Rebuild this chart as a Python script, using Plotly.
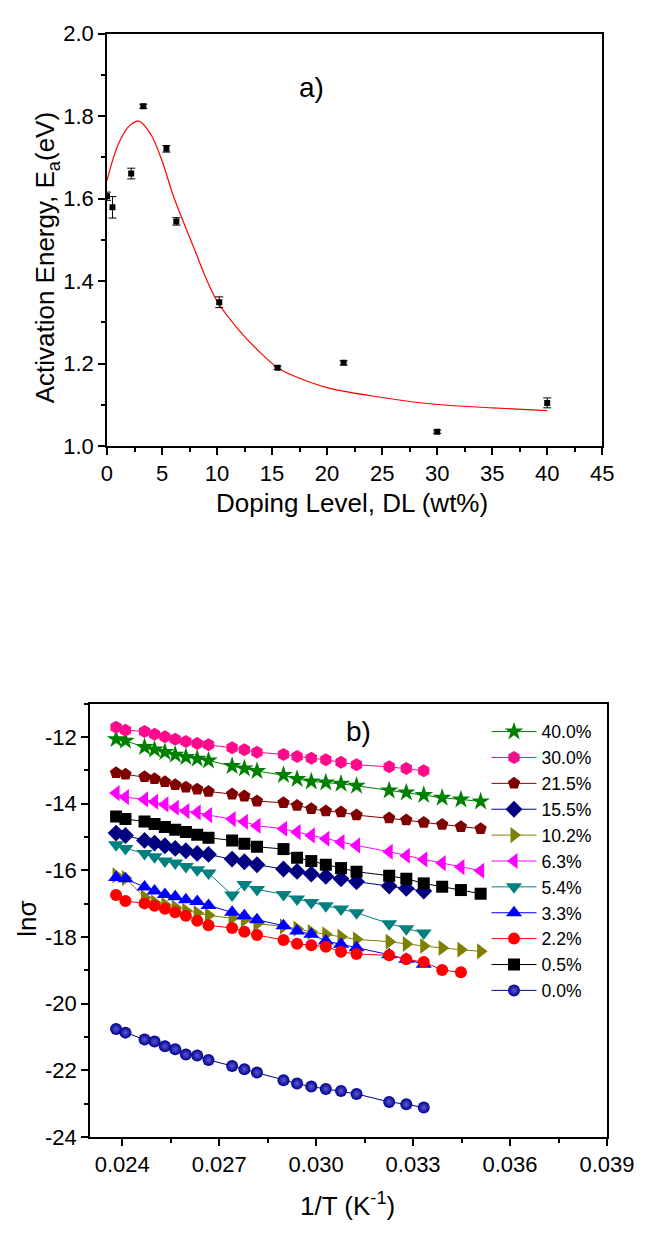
import plotly.graph_objects as go

# ---------------- Panel a data ----------------
doping_level = [0, 0.5, 2.2, 3.3, 5.4, 6.3, 10.2, 15.5, 21.5, 30, 40]
activation_energy = [1.606, 1.579, 1.661, 1.824, 1.721, 1.545, 1.349, 1.190, 1.202, 1.035, 1.105]
ea_error = [0.010, 0.026, 0.013, 0.005, 0.008, 0.009, 0.013, 0.004, 0.005, 0.004, 0.012]

fit_x = [0, 1, 2, 2.9, 4, 5, 6, 7, 8, 9, 10, 12, 14, 15.5, 17, 20, 25, 30, 35, 40]
fit_y = [1.644, 1.730, 1.776, 1.788, 1.755, 1.692, 1.609, 1.540, 1.474, 1.407, 1.352,
         1.281, 1.225, 1.190, 1.170, 1.142, 1.118, 1.101, 1.093, 1.086]

# ---------------- Panel b data ----------------
inv_T = [0.02381, 0.02410, 0.02469, 0.02500, 0.02532, 0.02564, 0.02597, 0.02632,
         0.02667, 0.02740, 0.02778, 0.02817, 0.02899, 0.02941, 0.02985, 0.03030,
         0.03077, 0.03125, 0.03226, 0.03279, 0.03333, 0.03390, 0.03448, 0.03509]

ln_40 = [-12.06, -12.11, -12.30, -12.37, -12.45, -12.53, -12.60, -12.65, -12.70, -12.87,
         -12.94, -13.02, -13.14, -13.26, -13.33, -13.36, -13.40, -13.46, -13.60, -13.66,
         -13.74, -13.82, -13.87, -13.93]
ln_30 = [-11.70, -11.79, -11.83, -11.91, -11.99, -12.06, -12.13, -12.19, -12.23, -12.32,
         -12.38, -12.45, -12.52, -12.58, -12.63, -12.68, -12.75, -12.83, -12.89, -12.94,
         -13.01]
ln_215 = [-13.07, -13.11, -13.19, -13.25, -13.34, -13.43, -13.50, -13.56, -13.63, -13.71,
          -13.77, -13.92, -13.97, -14.05, -14.15, -14.22, -14.25, -14.34, -14.43, -14.49,
          -14.56, -14.62, -14.69, -14.75]
ln_155 = [-14.88, -14.95, -15.10, -15.18, -15.26, -15.34, -15.41, -15.49, -15.52, -15.66,
          -15.74, -15.83, -15.96, -16.03, -16.11, -16.18, -16.25, -16.34, -16.47, -16.54,
          -16.62]
ln_102 = [-16.15, -16.23, -16.81, -16.96, -17.03, -17.11, -17.21, -17.28, -17.35, -17.43,
          -17.48, -17.60, -17.68, -17.75, -17.85, -17.92, -17.99, -18.07, -18.14, -18.21,
          -18.27, -18.33, -18.38, -18.43]
ln_63 = [-13.68, -13.80, -13.87, -13.94, -14.02, -14.12, -14.22, -14.26, -14.34, -14.46,
         -14.54, -14.66, -14.75, -14.85, -14.95, -15.05, -15.15, -15.25, -15.44, -15.56,
         -15.67, -15.78, -15.90, -16.01]
ln_54 = [-15.23, -15.34, -15.49, -15.59, -15.72, -15.78, -15.88, -15.98, -16.08, -16.74,
         -16.42, -16.57, -16.72, -16.86, -16.96, -17.06, -17.16, -17.27, -17.60, -17.75,
         -17.88]
ln_33 = [-16.21, -16.25, -16.50, -16.62, -16.72, -16.79, -16.88, -16.93, -17.05, -17.26,
         -17.36, -17.48, -17.66, -17.82, -17.92, -18.12, -18.22, -18.32, -18.53, -18.67,
         -18.82]
ln_22 = [-16.74, -16.92, -16.99, -17.06, -17.15, -17.26, -17.36, -17.51, -17.65, -17.73,
         -17.84, -17.94, -18.09, -18.20, -18.25, -18.29, -18.44, -18.51, -18.55, -18.67,
         -18.75, -18.99, -19.06]
ln_05 = [-14.38, -14.46, -14.53, -14.61, -14.70, -14.78, -14.85, -14.93, -15.02, -15.10,
         -15.20, -15.29, -15.36, -15.62, -15.72, -15.83, -15.93, -16.04, -16.16, -16.25,
         -16.39, -16.49, -16.59, -16.70]
ln_00 = [-20.76, -20.87, -21.08, -21.14, -21.28, -21.37, -21.53, -21.56, -21.69, -21.87,
         -21.97, -22.07, -22.30, -22.40, -22.49, -22.56, -22.62, -22.71, -22.95, -23.02,
         -23.12]

series_names = ["40.0%", "30.0%", "21.5%", "15.5%", "10.2%", "6.3%", "5.4%", "3.3%",
                "2.2%", "0.5%", "0.0%"]
series_values = [ln_40, ln_30, ln_215, ln_155, ln_102, ln_63, ln_54, ln_33, ln_22, ln_05, ln_00]
series_colors = ["#008000", "#FF0A8C", "#800000", "#000080", "#808000", "#FF00FF",
                 "#008080", "#0000FF", "#FF0000", "#000000", "#000090"]
series_symbols = ["star", "hexagon", "pentagon", "diamond", "triangle-right",
                  "triangle-left", "triangle-down", "triangle-up", "circle", "square", "circle"]
series_sizes = [14, 13, 13, 13, 14, 14, 14, 14, 12, 12, 12]

a_yticks = [1.0, 1.2, 1.4, 1.6, 1.8, 2.0]
a_yticklabels = ["1.0", "1.2", "1.4", "1.6", "1.8", "2.0"]
b_yticks = [-24, -22, -20, -18, -16, -14, -12]
b_yticklabels = ["-24", "-22", "-20", "-18", "-16", "-14", "-12"]
b_xticks = [0.024, 0.027, 0.030, 0.033, 0.036, 0.039]
b_xticklabels = ["0.024", "0.027", "0.030", "0.033", "0.036", "0.039"]

FONT = "Liberation Sans, Arial, sans-serif"
W, H = 664, 1233
OFF = 8  # page body offset of the rendered figure

def px(x):
    return (x - OFF) / W

def py(y):
    return 1 - (y - OFF) / H

fig = go.Figure()

# panel a
fig.add_trace(go.Scatter(
    x=fit_x, y=fit_y, mode="lines", line=dict(color="#FF0000", width=1.2, shape="spline"),
    xaxis="x", yaxis="y", showlegend=False, hoverinfo="skip"))
fig.add_trace(go.Scatter(
    x=doping_level, y=activation_energy, mode="markers",
    marker=dict(symbol="square", size=6, color="black"),
    error_y=dict(type="data", array=ea_error, visible=True, color="black", thickness=1, width=4),
    xaxis="x", yaxis="y", showlegend=False))

# panel b
for name, vals, col, sym, sz in zip(series_names, series_values, series_colors,
                                    series_symbols, series_sizes):
    marker = dict(symbol=sym, size=sz, color=col, line=dict(width=0))
    if name == "0.0%":
        marker["gradient"] = dict(type="radial", color="#5a5ad0")
    fig.add_trace(go.Scatter(
        x=inv_T[:len(vals)], y=vals, mode="lines+markers", name=name,
        line=dict(color=col, width=1), marker=marker,
        xaxis="x2", yaxis="y2"))

ax_common = dict(showgrid=False, zeroline=False, showline=True, linecolor="black",
                 linewidth=1.5, mirror=True, ticks="outside", tickcolor="black",
                 ticklen=7, tickwidth=1.5,
                 tickfont=dict(family=FONT, size=22, color="black"))
in_common = dict(showgrid=False, zeroline=False, showline=False, ticks="inside",
                 tickcolor="black", ticklen=7, tickwidth=1.5, showticklabels=False)

def minor(d, side):
    return dict(dtick=d, ticks=side, ticklen=4, tickcolor="black", tickwidth=1.5)

dom_ax = [px(106), px(628)]
dom_ay = [py(443), py(22)]
dom_bx = [px(88), px(633)]
dom_by = [py(1148), py(706)]

fig.update_layout(
    width=W, height=H, margin=dict(l=0, r=0, t=0, b=0),
    paper_bgcolor="white", plot_bgcolor="white",
    font=dict(family=FONT, color="black"),
    xaxis=dict(domain=dom_ax, anchor="y", range=[0, 45], tick0=0, dtick=5,
               minor=minor(2.5, "outside"), **ax_common),
    yaxis=dict(domain=dom_ay, anchor="x", range=[1.0, 2.0],
               tickmode="array", tickvals=a_yticks, ticktext=a_yticklabels,
               minor=minor(0.1, "outside"), **ax_common),
    xaxis3=dict(domain=dom_ax, anchor="y", overlaying="x", side="top", range=[0, 45],
                tick0=0, dtick=5, minor=minor(2.5, "inside"), **in_common),
    yaxis3=dict(domain=dom_ay, anchor="x", overlaying="y", side="right", range=[1.0, 2.0],
                tick0=1.0, dtick=0.2, minor=minor(0.1, "inside"), **in_common),
    xaxis2=dict(domain=dom_bx, anchor="y2", range=[0.023, 0.039],
                tickmode="array", tickvals=b_xticks, ticktext=b_xticklabels,
                minor=minor(0.0015, "outside"), **ax_common),
    yaxis2=dict(domain=dom_by, anchor="x2", range=[-24, -11],
                tickmode="array", tickvals=b_yticks, ticktext=b_yticklabels,
                minor=minor(1, "outside"), **ax_common),
    xaxis4=dict(domain=dom_bx, anchor="y2", overlaying="x2", side="top", range=[0.023, 0.039],
                tick0=0.024, dtick=0.003, minor=minor(0.0015, "inside"), **in_common),
    yaxis4=dict(domain=dom_by, anchor="x2", overlaying="y2", side="right", range=[-24, -11],
                tick0=-24, dtick=2, minor=minor(1, "inside"), **in_common),
    legend=dict(x=px(506), y=py(716), xanchor="left", yanchor="top",
                bgcolor="rgba(0,0,0,0)", borderwidth=0, tracegroupgap=0,
                font=dict(family=FONT, size=17.6, color="black"), itemwidth=45),
    showlegend=True,
)

annots = [
    dict(text="Activation Energy, E<sub>a</sub>(eV)", x=px(42), y=py(251), textangle=-90,
         font=dict(size=26)),
    dict(text="Doping Level, DL (wt%)", x=px(364), y=py(501), font=dict(size=26)),
    dict(text="a)", x=px(322), y=py(77), font=dict(size=28)),
    dict(text="b)", x=px(371), y=py(734), font=dict(size=28)),
    dict(text="lnσ", x=px(22), y=py(925), textangle=-90, font=dict(size=26)),
    dict(text="1/T (K<sup>-1</sup>)", x=px(360), y=py(1217), font=dict(size=26)),
]
for a in annots:
    a.update(xref="paper", yref="paper", showarrow=False, xanchor="center", yanchor="middle")
    a["font"].update(family=FONT, color="black")
fig.update_layout(annotations=annots)

fig.write_html("out.html")
